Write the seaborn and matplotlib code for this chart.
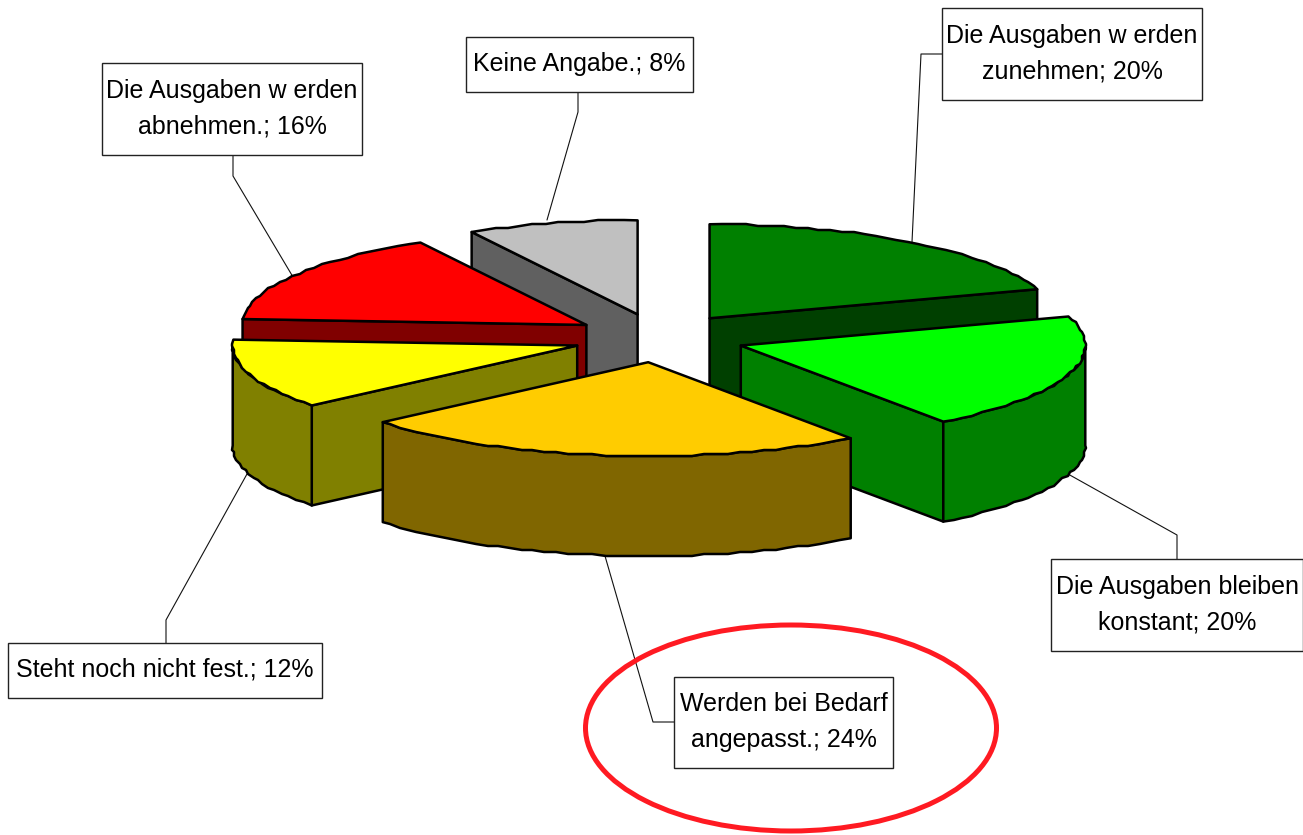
import numpy as np
import seaborn as sns
import matplotlib
matplotlib.use("Agg")
import matplotlib.pyplot as plt
from matplotlib.patches import Ellipse, Rectangle

sns.set_theme(style="white")
plt.rcParams['font.family'] = ['Liberation Sans', 'DejaVu Sans']

# Data, clockwise from 12 o'clock
categories = ["Die Ausgaben w erden\nzunehmen", "Die Ausgaben bleiben\nkonstant", "Werden bei Bedarf\nangepasst.",
              "Steht noch nicht fest.", "Die Ausgaben w erden\nabnehmen.", "Keine Angabe."]
shares = [20, 20, 24, 12, 16, 8]
top_colors = ["#008000", "#00FF00", "#FFCC00", "#FFFF00", "#FF0000", "#C0C0C0"]
side_colors = ["#004000", "#008000", "#806600", "#808000", "#800000", "#606060"]

# Layout of the fake 3D pie, in pixels
cx, cy = 659, 338
rx, ry = 344.5, 94
ex, ey = 86, 24.4
depth = 100
paint_order = [5, 0, 4, 1, 3, 2]

# label boxes (left, top, right, bottom) and leader lines, same order as categories
boxes = [(942, 8, 1202, 100), (1051, 559, 1303, 651), (674, 677, 893, 768),
         (8, 643, 322, 698), (102, 63, 362, 155), (466, 37, 693, 92)]
leaders = [[(942, 54), (921, 54), (912, 242)],
           [(1177, 559), (1177, 535), (1068, 474)],
           [(674, 722), (653, 722), (605, 556)],
           [(166, 643), (166, 620), (247, 474)],
           [(233, 155), (233, 176), (293, 277)],
           [(578, 92), (578, 112), (547, 220)]]


def rim(ax0, ay0, a0, a1):
    # arc of the rim, snapped to a coarse grid so it has the bumpy look of the original
    n = max(int(abs(a0 - a1) / 2), 2)
    t = np.radians(np.linspace(a0, a1, n))
    x = ax0 + rx * np.cos(t)
    y = ay0 - ry * np.sin(t)
    sx = np.round(x / 2) * 2
    sy = np.round(y / 2) * 2
    sx[0], sy[0], sx[-1], sy[-1] = x[0], y[0], x[-1], y[-1]
    return sx, sy


fig = plt.figure(figsize=(13.03, 8.35), dpi=100)
ax = fig.add_axes([0, 0, 1, 1])
ax.set_xlim(0, 1303)
ax.set_ylim(835, 0)
ax.axis("off")

for pts in leaders:
    xs, ys = zip(*pts)
    sns.lineplot(x=list(xs), y=list(ys), sort=False, estimator=None, color="#111111", lw=0.8, ax=ax, zorder=1)

# slice angles
ends = 90 - np.cumsum(shares) * 3.6
starts = np.concatenate([[90], ends[:-1]])
line_kw = dict(edgecolor="black", linewidth=1.8, joinstyle="round", zorder=2)

for i in paint_order:
    a0, a1 = starts[i], ends[i]
    mid = np.radians((a0 + a1) / 2)
    ax0 = cx + ex * np.cos(mid)
    ay0 = cy - ey * np.sin(mid)

    # cut faces that look towards the viewer
    for a, visible in [(a0, np.cos(np.radians(a0)) < -1e-6), (a1, np.cos(np.radians(a1)) > 1e-6)]:
        if visible:
            ex0 = ax0 + rx * np.cos(np.radians(a))
            ey0 = ay0 - ry * np.sin(np.radians(a))
            ax.fill([ax0, ex0, ex0, ax0], [ay0, ey0, ey0 + depth, ay0 + depth],
                    facecolor=side_colors[i], **line_kw)

    # outer wall, only the part on the front half
    hi, lo = min(a0, 0), max(a1, -180)
    if hi > lo:
        wx, wy = rim(ax0, ay0, hi, lo)
        ax.fill(np.r_[wx, wx[::-1]], np.r_[wy, wy[::-1] + depth], facecolor=side_colors[i], **line_kw)

    # top surface
    tx, ty = rim(ax0, ay0, a0, a1)
    ax.fill(np.r_[ax0, tx], np.r_[ay0, ty], facecolor=top_colors[i], **line_kw)

for cat, share, (l, t, r, b) in zip(categories, shares, boxes):
    ax.add_patch(Rectangle((l, t), r - l, b - t, facecolor="white", edgecolor="#222222", lw=1, zorder=3))
    ax.text((l + r) / 2, (t + b) / 2 - 0.5, f"{cat}; {share}%", ha="center", va="center", fontsize=18,
            color="black", linespacing=1.6, zorder=4)

ax.add_patch(Ellipse((791, 728), 411, 206, fill=False, edgecolor="#FF1A22", lw=3.6, zorder=5, clip_on=False))

fig.savefig("out.png", dpi=100)
